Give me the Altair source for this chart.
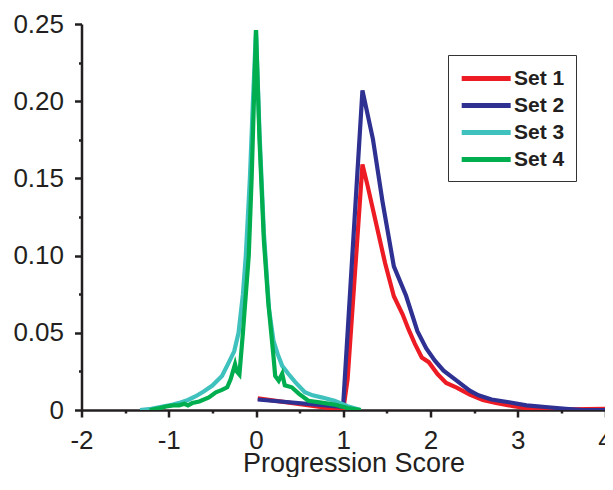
import altair as alt
import pandas as pd

# ---- data ----
set_names = ["Set 1", "Set 2", "Set 3", "Set 4"]
set_colors = ["#ed1c24", "#2e3192", "#3fc1bd", "#00ad4f"]

x1 = [0.02, 1.0, 1.05, 1.22, 1.28, 1.38, 1.48, 1.58, 1.68, 1.75, 1.82, 1.90, 1.98,
      2.08, 2.18, 2.30, 2.45, 2.60, 2.75, 2.95, 3.10, 3.30, 3.60, 3.80, 4.00]
y1 = [0.0075, 0.0, 0.02, 0.159, 0.145, 0.12, 0.095, 0.0737, 0.062, 0.052, 0.043, 0.034, 0.031,
      0.0233, 0.0175, 0.0145, 0.010, 0.0065, 0.0045, 0.0025, 0.0012, 0.0005, 0.0004, 0.0006, 0.0008]

x2 = [0.02, 0.98, 1.0, 1.22, 1.34, 1.45, 1.58, 1.72, 1.85, 1.95, 2.05, 2.15, 2.30,
      2.45, 2.55, 2.70, 2.90, 3.10, 3.35, 3.55, 3.75, 4.00]
y2 = [0.0068, 0.002, 0.004, 0.207, 0.1755, 0.135, 0.093, 0.074, 0.051, 0.040, 0.032, 0.0255, 0.019,
      0.0125, 0.0095, 0.0068, 0.005, 0.003, 0.0018, 0.0008, 0.0, 0.0]

x3 = [-1.33, -1.2, -1.07, -0.95, -0.88, -0.78, -0.69, -0.6, -0.5, -0.39, -0.31, -0.25, -0.2,
      -0.15, -0.117, -0.07, -0.035, 0.0, 0.04, 0.09, 0.15, 0.2, 0.25, 0.30, 0.37, 0.45, 0.56,
      0.65, 0.75, 0.9, 1.05, 1.2]
y3 = [0.0, 0.0008, 0.0023, 0.0035, 0.0046, 0.0065, 0.0089, 0.012, 0.0158, 0.022, 0.031, 0.038, 0.05,
      0.075, 0.1, 0.15, 0.2, 0.246, 0.18, 0.115, 0.065, 0.045, 0.036, 0.0286, 0.0235, 0.018, 0.0115,
      0.0095, 0.0082, 0.006, 0.0025, 0.0]

x4 = [-1.22, -1.10, -1.03, -0.95, -0.88, -0.82, -0.78, -0.73, -0.65, -0.54, -0.46, -0.39, -0.33,
      -0.29, -0.24, -0.22, -0.19, -0.15, -0.083, -0.05, 0.0, 0.04, 0.09, 0.14, 0.2, 0.22, 0.26,
      0.3, 0.33, 0.41, 0.49, 0.6, 0.75, 0.9, 1.05, 1.2]
y4 = [0.0, 0.0012, 0.0023, 0.003, 0.003, 0.004, 0.003, 0.0045, 0.0055, 0.0082, 0.0115, 0.013, 0.0147,
      0.02, 0.0297, 0.025, 0.023, 0.05, 0.1, 0.15, 0.246, 0.175, 0.11, 0.07, 0.035, 0.022, 0.019,
      0.0235, 0.016, 0.0147, 0.0106, 0.006, 0.0048, 0.0035, 0.0012, 0.0]

x_ticks = [-2, -1.5, -1, -0.5, 0, 0.5, 1, 1.5, 2, 2.5, 3, 3.5, 4]
y_ticks = [0, 0.025, 0.05, 0.075, 0.10, 0.125, 0.15, 0.175, 0.20, 0.225, 0.25]

rows = []
for name, xs, ys in zip(set_names, [x1, x2, x3, x4], [y1, y2, y3, y4]):
    for i, (xv, yv) in enumerate(zip(xs, ys)):
        rows.append({"set": name, "x": xv, "y": yv, "i": i})
df = pd.DataFrame(rows)

ink = "#231f20"
font = "Liberation Sans, Arial, Helvetica, sans-serif"

chart = alt.Chart(df).mark_line(strokeWidth=4.2, clip=True).encode(
    x=alt.X("x:Q", scale=alt.Scale(domain=[-2, 4], nice=False, zero=False),
            axis=alt.Axis(values=x_ticks, title="Progression Score",
                          labelExpr="datum.value % 1 === 0 ? '' + datum.value : ''",
                          tickSize={"condition": {"test": "datum.value % 1 === 0", "value": 7}, "value": 3},
                          labelPadding=10, titlePadding=-3, titleX=272, titleAlign="center",
                          labelFlush=False)),
    y=alt.Y("y:Q", scale=alt.Scale(domain=[0, 0.25], nice=False),
            axis=alt.Axis(values=y_ticks, title=None,
                          labelExpr="round(datum.value*40) % 2 === 0 ? (datum.value === 0 ? '0' : format(datum.value, '.2f')) : ''",
                          tickSize={"condition": {"test": "round(datum.value*40) % 2 === 0", "value": 7}, "value": 3},
                          labelPadding=11, labelFlush=False)),
    color=alt.Color("set:N", scale=alt.Scale(domain=set_names, range=set_colors),
                    legend=alt.Legend(title=None, orient="none", legendX=366.5, legendY=31,
                                      symbolType="M-1,0H4", symbolSize=384, symbolStrokeWidth=5,
                                      labelFont=font,
                                      labelFontWeight="bold", labelFontSize=21, labelColor=ink,
                                      labelOffset=30, rowPadding=4, padding=11,
                                      strokeColor="#333333", fillColor="white")),
    order=alt.Order("i:Q"),
).properties(
    width=523.5, height=386,
    autosize=alt.AutoSizeParams(type="none"),
    padding={"left": 73.5, "top": 16, "right": 0, "bottom": 67},
).configure_view(stroke=None).configure_axis(
    grid=False, domainColor=ink, domainWidth=2.5, tickColor=ink, tickWidth=2.5,
    labelFont=font, labelFontSize=26, labelColor=ink,
    titleFont=font, titleFontSize=27, titleFontWeight="normal", titleColor=ink,
)

chart.save("out.html", embed_options={"renderer": "svg", "actions": False})
